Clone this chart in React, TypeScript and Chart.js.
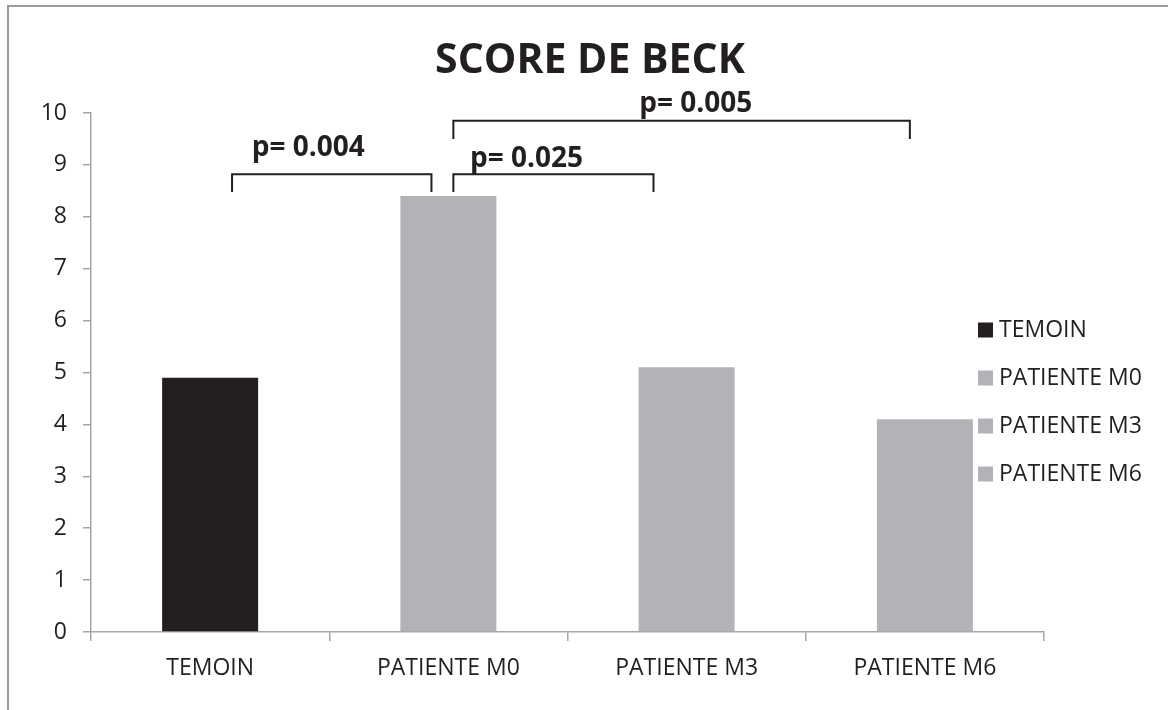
import React, { useEffect, useRef } from "react";
import { Chart, registerables } from "chart.js";

Chart.register(...registerables);

const titleText = "SCORE DE BECK";
const categories = ["TEMOIN", "PATIENTE M0", "PATIENTE M3", "PATIENTE M6"];
const values = [4.9, 8.4, 5.1, 4.1];
const barColors = ["#231F20", "#B1B3B6", "#B1B3B6", "#B1B3B6"];
const yTicks = [0, 1, 2, 3, 4, 5, 6, 7, 8, 9, 10];

// significance brackets (x in category units, y in data units)
const bracketLabels = ["p= 0.004", "p= 0.025", "p= 0.005"];
const bracketStart = [0.092, 1.021, 1.021];
const bracketEnd = [0.929, 1.861, 2.937];
const bracketTop = [8.82, 8.82, 9.85];
const bracketBottom = [8.48, 8.48, 9.5];
const labelX = [0.412, 1.328, 2.038];
const labelY = [9.33, 9.12, 10.17];

const FONT = "'Open Sans', 'DejaVu Sans', sans-serif";
const AXIS_GRAY = "#A6A6A6";
const TEXT = "#231F20";

export default function App() {
  const ref = useRef<HTMLCanvasElement | null>(null);

  useEffect(() => {
    if (!ref.current) return;

    const framePlugin = {
      id: "frame",
      beforeDraw(chart: any) {
        const ctx = chart.ctx;
        ctx.save();
        ctx.fillStyle = "#ffffff";
        ctx.fillRect(0, 0, chart.width, chart.height);
        ctx.strokeStyle = "#9B9B9E";
        ctx.lineWidth = 2;
        ctx.beginPath();
        ctx.moveTo(8, chart.height);
        ctx.lineTo(8, 6);
        ctx.lineTo(chart.width, 6);
        ctx.stroke();
        ctx.restore();
      },
      afterDraw(chart: any) {
        const ctx = chart.ctx;
        ctx.save();
        ctx.fillStyle = TEXT;
        ctx.font = `bold 41px ${FONT}`;
        ctx.textAlign = "center";
        ctx.textBaseline = "middle";
        ctx.fillText(titleText, 590, 61);
        ctx.restore();
      },
    };

    const bracketPlugin = {
      id: "brackets",
      afterDatasetsDraw(chart: any) {
        const ctx = chart.ctx;
        const xs = chart.scales.x;
        const ys = chart.scales.y;
        const step = xs.getPixelForValue(1) - xs.getPixelForValue(0);
        const px = (v: number) => xs.getPixelForValue(0) + v * step;
        ctx.save();
        ctx.strokeStyle = TEXT;
        ctx.lineWidth = 2;
        for (let i = 0; i < bracketLabels.length; i++) {
          const x0 = px(bracketStart[i]);
          const x1 = px(bracketEnd[i]);
          const yt = ys.getPixelForValue(bracketTop[i]);
          const yb = ys.getPixelForValue(bracketBottom[i]);
          ctx.beginPath();
          ctx.moveTo(x0, yb);
          ctx.lineTo(x0, yt);
          ctx.lineTo(x1, yt);
          ctx.lineTo(x1, yb);
          ctx.stroke();
          ctx.fillStyle = TEXT;
          ctx.font = `bold 28px ${FONT}`;
          ctx.textAlign = "center";
          ctx.textBaseline = "middle";
          ctx.fillText(bracketLabels[i], px(labelX[i]), ys.getPixelForValue(labelY[i]));
        }
        ctx.restore();
      },
    };

    const legendPlugin = {
      id: "sideLegend",
      afterDraw(chart: any) {
        const ctx = chart.ctx;
        ctx.save();
        ctx.font = `23px ${FONT}`;
        ctx.textAlign = "left";
        ctx.textBaseline = "middle";
        const startY = 330;
        const gap = 48;
        for (let i = 0; i < categories.length; i++) {
          const cy = startY + i * gap;
          ctx.fillStyle = barColors[i];
          ctx.fillRect(978, cy - 7.5, 15, 15);
          ctx.fillStyle = TEXT;
          ctx.fillText(categories[i], 999, cy);
        }
        ctx.restore();
      },
    };

    const chart = new Chart(ref.current, {
      type: "bar",
      data: {
        labels: categories,
        datasets: [
          {
            label: "Score de Beck",
            data: values,
            backgroundColor: barColors,
            borderWidth: 0,
            categoryPercentage: 1,
            barPercentage: 0.403,
          },
        ],
      },
      options: {
        responsive: false,
        animation: false,
        devicePixelRatio: 1,
        layout: { padding: { left: 0, right: 124, top: 113, bottom: 0 } },
        plugins: {
          legend: { display: false },
          tooltip: { enabled: false },
          title: { display: false },
        },
        scales: {
          x: {
            grid: {
              display: true,
              drawOnChartArea: false,
              drawTicks: true,
              tickLength: 9,
              color: AXIS_GRAY,
              lineWidth: 1.5,
              offset: true,
            },
            border: { display: true, color: AXIS_GRAY, width: 1.5 },
            ticks: {
              color: TEXT,
              font: { family: FONT, size: 23 },
              padding: 14,
              maxRotation: 0,
              autoSkip: false,
            },
            afterFit(scale: any) {
              scale.height = 78;
            },
          },
          y: {
            min: 0,
            max: 10,
            afterBuildTicks(scale: any) {
              scale.ticks = yTicks.map((v) => ({ value: v }));
            },
            grid: {
              display: true,
              drawOnChartArea: false,
              drawTicks: true,
              tickLength: 8,
              color: AXIS_GRAY,
              lineWidth: 1.5,
            },
            border: { display: true, color: AXIS_GRAY, width: 1.5 },
            ticks: {
              color: TEXT,
              font: { family: FONT, size: 23 },
              padding: 16,
            },
            afterFit(scale: any) {
              scale.width = 91;
            },
          },
        },
      },
      plugins: [framePlugin, bracketPlugin, legendPlugin],
    });

    return () => chart.destroy();
  }, []);

  return (
    <div style={{ position: "fixed", left: 0, top: 0, width: 1168, height: 710 }}>
      <canvas ref={ref} width={1168} height={710} />
    </div>
  );
}
